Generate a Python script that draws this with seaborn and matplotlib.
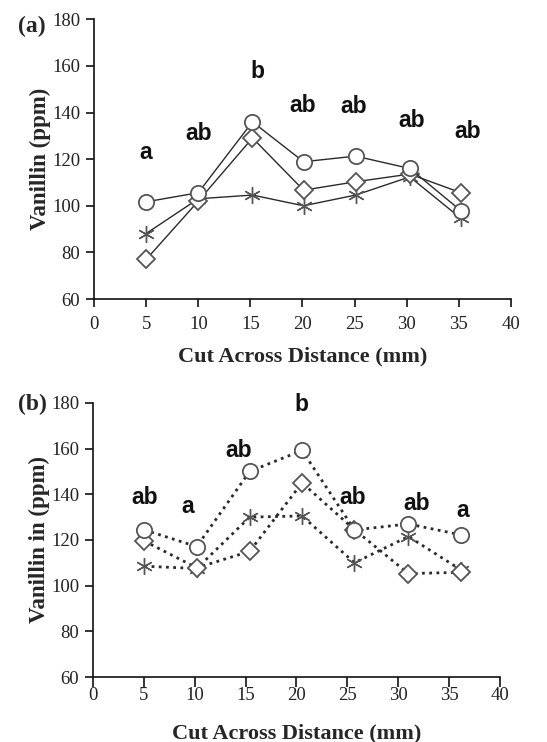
import matplotlib
matplotlib.use("Agg")
import matplotlib.pyplot as plt
import seaborn as sns
import pandas as pd

sns.set_style("ticks")
plt.rcParams['font.family'] = ['Liberation Serif', 'DejaVu Serif']

# Panel (a)
xa = [5, 10, 15.2, 20.1, 25.1, 30.3, 35.2]
a_circle = [101.7, 105.6, 136.0, 118.9, 121.3, 116.0, 97.9]
a_diamond = [77.0, 102.0, 129.1, 106.7, 110.3, 113.6, 105.6]
a_star = [88.1, 103.0, 104.6, 100.0, 104.6, 112.4, 94.6]
a_lab_x = [5, 10, 15.7, 20, 24.9, 30.5, 35.9]
a_lab_y = [122.7, 131.0, 157.4, 143.0, 142.7, 136.4, 131.7]
a_labels = ["a", "ab", "b", "ab", "ab", "ab", "ab"]

# Panel (b)
xb = [5.05, 10.2, 15.4, 20.55, 25.7, 31.0, 36.2]
b_circle = [124.4, 117.1, 150.0, 159.2, 124.4, 127.0, 122.2]
b_diamond = [119.5, 107.8, 115.0, 145.0, 124.5, 105.3, 105.8]
b_star = [108.5, 107.5, 130.0, 130.5, 110.0, 121.5, 106.8]
b_lab_x = [5.1, 9.3, 14.3, 20.5, 25.5, 31.8, 36.3]
b_lab_y = [138.6, 134.6, 159.0, 179.5, 138.6, 136.0, 133.0]
b_labels = ["ab", "a", "ab", "b", "ab", "ab", "a"]

xticks = [0, 5, 10, 15, 20, 25, 30, 35, 40]
yticks = [60, 80, 100, 120, 140, 160, 180]

fig = plt.figure(figsize=(5.47, 7.42), dpi=100)
ax1 = fig.add_axes([0.172, 0.597, 0.762, 0.377])
ax2 = fig.add_axes([0.170, 0.0876, 0.744, 0.3694])

line_col = '#2a2a2a'
edge_col = '#555555'

def draw(ax, x, circ, diam, star, ls, lw):
    common = dict(color=line_col, linestyle=ls, linewidth=lw, ax=ax, legend=False)
    sns.lineplot(x=x, y=star, marker=(6, 2, 0), markersize=12, markeredgecolor=edge_col,
                 markeredgewidth=1.0, **common)
    sns.lineplot(x=x, y=diam, marker='D', markersize=9, markerfacecolor='white',
                 markeredgecolor=edge_col, markeredgewidth=1.3, **common)
    sns.lineplot(x=x, y=circ, marker='o', markersize=11, markerfacecolor='white',
                 markeredgecolor=edge_col, markeredgewidth=1.3, **common)

draw(ax1, xa, a_circle, a_diamond, a_star, '-', 1.0)
draw(ax2, xb, b_circle, b_diamond, b_star, (0, (1, 1.6)), 2.0)

for ax, lx, ly, labs in [(ax1, a_lab_x, a_lab_y, a_labels), (ax2, b_lab_x, b_lab_y, b_labels)]:
    for x, y, t in zip(lx, ly, labs):
        ax.text(x, y, t, ha='center', va='center', fontsize=16.5, fontweight='bold',
                family=['Liberation Sans', 'DejaVu Sans'], color='#111111')

for ax, ylabel in [(ax1, 'Vanillin (ppm)'), (ax2, 'Vanillin in (ppm)')]:
    ax.set_xlim(0, 40)
    ax.set_ylim(60, 180)
    ax.set_xticks(xticks)
    ax.set_yticks(yticks)
    ax.tick_params(axis='both', labelsize=13.5, length=6, width=1.2, color='#111111',
                   labelcolor='#222222', direction='out', pad=4)
    for s in ['top', 'right']:
        ax.spines[s].set_visible(False)
    for s in ['left', 'bottom']:
        ax.spines[s].set_linewidth(1.2)
        ax.spines[s].set_color('#111111')
    ax.set_ylabel(ylabel, fontsize=16.5, fontweight='bold', labelpad=1)

ax1.tick_params(axis='x', pad=6)
ax2.tick_params(axis='x', length=7, pad=0)
ax1.set_xlabel('Cut Across Distance (mm)', fontsize=16, fontweight='bold', labelpad=10)
ax2.set_xlabel('Cut Across Distance (mm)', fontsize=16, fontweight='bold', labelpad=14)

fig.text(0.033, 0.965, '(a)', fontsize=17, fontweight='bold', va='center', ha='left')
fig.text(0.033, 0.455, '(b)', fontsize=17, fontweight='bold', va='center', ha='left')

fig.savefig('out.png', dpi=100, facecolor='white')
